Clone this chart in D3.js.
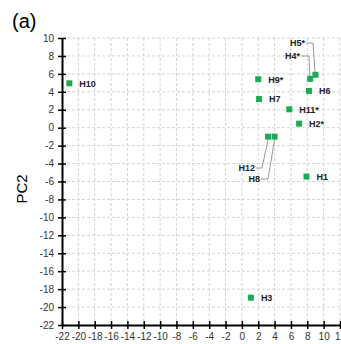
<!DOCTYPE html>
<html>
<head>
<meta charset="utf-8">
<script src="https://cdn.jsdelivr.net/npm/d3@7"></script>
<style>
  body { margin: 0; background: #fff; }
  text { font-family: Arial, "Liberation Sans", sans-serif; }
</style>
</head>
<body>
<script>
// data
var names = ['H1', 'H2*', 'H3', 'H4*', 'H5*', 'H6', 'H7', 'H8', 'H9*', 'H10', 'H11*', 'H12']
var pc1   = [7.9, 7.0, 1.1, 8.35, 9.0, 8.2, 2.1, 4.0, 2.0, -21.1, 5.8, 3.2]
var pc2   = [-5.45, 0.45, -18.95, 5.45, 5.9, 4.1, 3.2, -1.0, 5.4, 4.95, 2.05, -1.0]
var xTicks = d3.range(-22, 13, 2)
var yTicks = d3.range(-22, 11, 2)

var W = 341, H = 344
var svg = d3.select('body').append('svg').attr('width', W).attr('height', H)

var x = d3.scaleLinear().domain([-22, 12]).range([62, 340])
var y = d3.scaleLinear().domain([-22, 10]).range([325, 38])

// grid
var grid = svg.append('g').attr('stroke', '#d4d4d4').attr('stroke-dasharray', '3,2').attr('stroke-width', 1)
grid.selectAll('.gx').data(xTicks.slice(1)).enter().append('line')
  .attr('x1', d => x(d)).attr('x2', d => x(d)).attr('y1', y(10)).attr('y2', y(-22))
grid.selectAll('.gy').data(yTicks.slice(1)).enter().append('line')
  .attr('y1', d => y(d)).attr('y2', d => y(d)).attr('x1', x(-22)).attr('x2', x(12))

// axes (plain hyphen minus like the original)
var fmt = d => String(d)
var xAxis = d3.axisBottom(x).tickValues(xTicks).tickFormat(fmt).tickSizeInner(0).tickSizeOuter(0).tickPadding(8)
var gx = svg.append('g').attr('transform', 'translate(0,' + y(-22) + ')').call(xAxis)
var yAxis = d3.axisLeft(y).tickValues(yTicks).tickFormat(fmt).tickSizeInner(0).tickSizeOuter(0).tickPadding(8)
var gy = svg.append('g').attr('transform', 'translate(' + x(-22) + ',0)').call(yAxis)
;[gx, gy].forEach(function (g) {
  g.select('.domain').attr('stroke', '#000').attr('stroke-width', 2)
  g.selectAll('text').attr('font-size', 10).attr('fill', '#333').attr('font-family', 'Arial, "Liberation Sans", sans-serif')
})
// crossing tick marks
gx.selectAll('.tick').append('line').attr('y1', -4).attr('y2', 4).attr('stroke', '#000').attr('stroke-width', 1.5)
gy.selectAll('.tick').append('line').attr('x1', -4).attr('x2', 4).attr('stroke', '#000').attr('stroke-width', 1.5)

// titles
svg.append('text').attr('x', 12).attr('y', 28).attr('font-size', 20).text('(a)')
svg.append('text').attr('transform', 'translate(27,189) rotate(-90)')
  .attr('text-anchor', 'middle').attr('font-size', 15).text('PC2')

// label placement; leaders for the crowded ones
var pts = names.map((n, i) => ({ name: n, px: x(pc1[i]), py: y(pc2[i]) }))
var lab = {
  'H4*': { lx: 300, ly: 59, bend: 309 },
  'H5*': { lx: 305, ly: 46, bend: 313 },
  'H12': { lx: 255, ly: 171, bend: 262 },
  'H8':  { lx: 260, ly: 182, bend: 268 }
}

var leaders = svg.append('g').attr('fill', 'none').attr('stroke', '#999').attr('stroke-width', 1)
pts.forEach(function (p) {
  var L = lab[p.name]
  if (!L) return
  leaders.append('polyline')
    .attr('points', [[L.lx + 1, L.ly - 3], [L.bend, L.ly - 3], [p.px, p.py + 3]].join(' '))
})

svg.append('g').selectAll('rect').data(pts).enter().append('rect')
  .attr('x', d => d.px - 3).attr('y', d => d.py - 3)
  .attr('width', 6).attr('height', 6).attr('fill', '#1daa55')

svg.append('g').selectAll('text').data(pts).enter().append('text')
  .attr('x', d => lab[d.name] ? lab[d.name].lx : d.px + 10)
  .attr('y', d => lab[d.name] ? lab[d.name].ly : d.py + 3.5)
  .attr('text-anchor', d => lab[d.name] ? 'end' : 'start')
  .attr('font-size', 9).attr('font-weight', 'bold').attr('fill', '#222')
  .text(d => d.name)
</script>
</body>
</html>
